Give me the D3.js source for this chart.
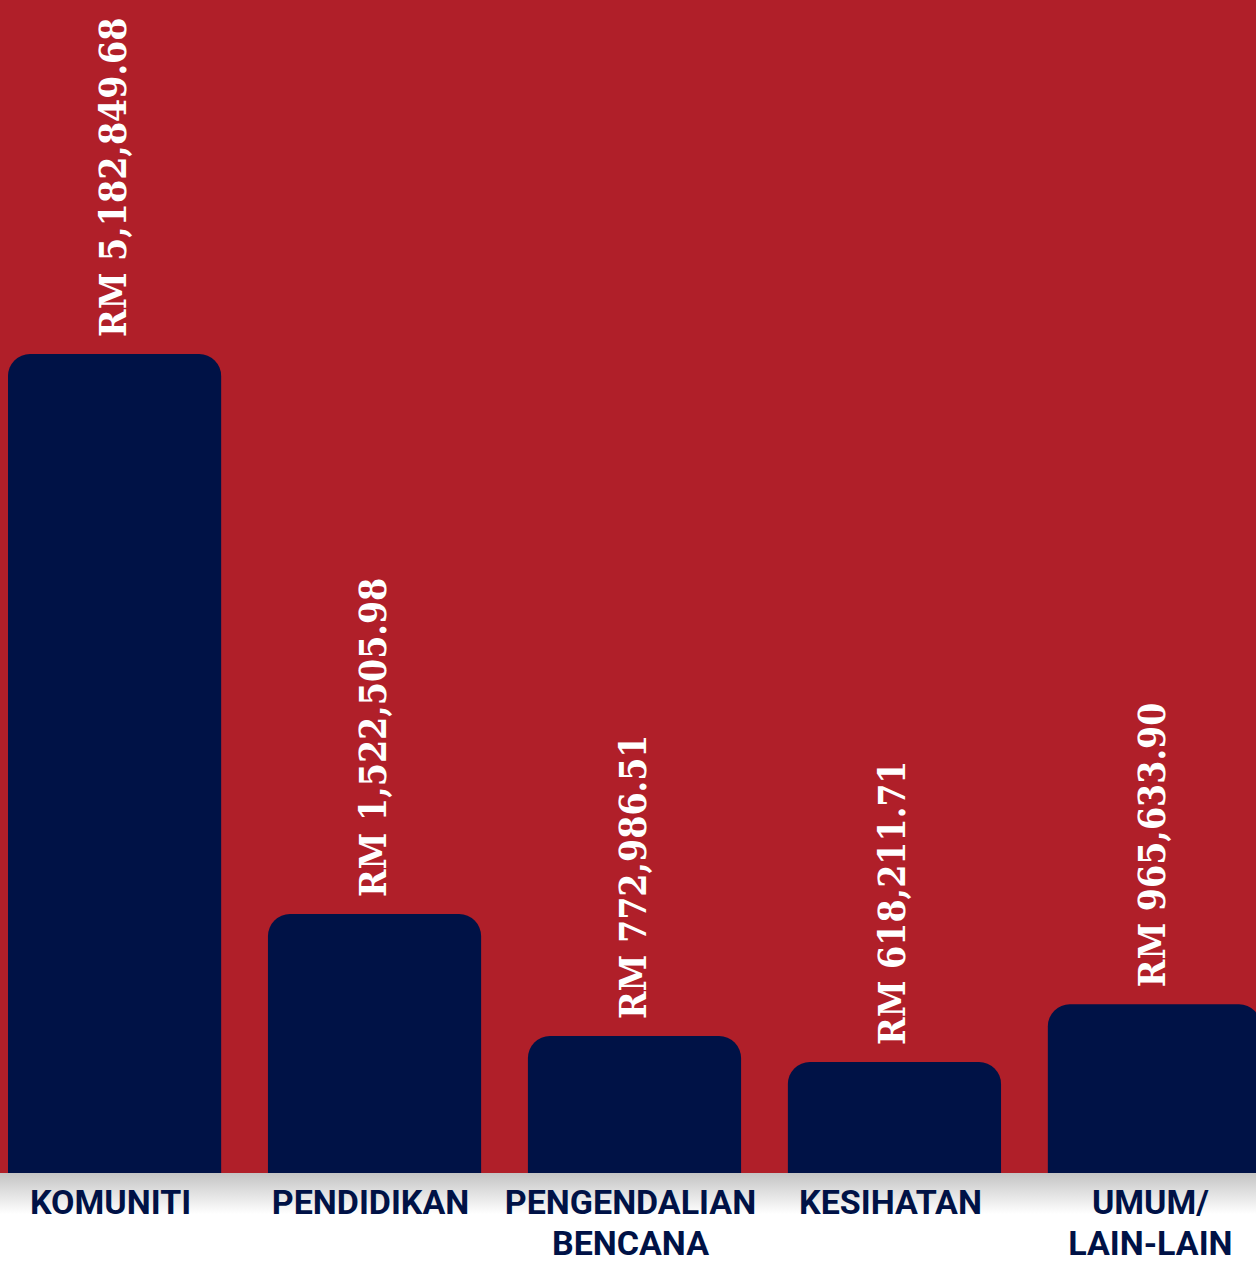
<html>
<head>
<meta charset="utf-8">
<script src="https://cdn.jsdelivr.net/npm/d3@7"></script>
<style>
  body { margin: 0; background: #fff; }
</style>
</head>
<body>
<script>

const width = 1256;
const height = 1264;
const baseY = 1173;

// data
const categories = ["KOMUNITI", "PENDIDIKAN", "PENGENDALIAN BENCANA", "KESIHATAN", "UMUM/ LAIN-LAIN"];
const labelLines = [["KOMUNITI"], ["PENDIDIKAN"], ["PENGENDALIAN", "BENCANA"], ["KESIHATAN"], ["UMUM/", "LAIN-LAIN"]];
const amounts = [5182849.68, 1522505.98, 772986.51, 618211.71, 965633.90];
const valueLabels = ["RM 5,182,849.68", "RM 1,522,505.98", "RM 772,986.51", "RM 618,211.71", "RM 965,633.90"];

const data = categories.map((c, i) => ({ cat: c, lines: labelLines[i], value: amounts[i], label: valueLabels[i] }));

const svg = d3.select('body').append('svg')
	.attr('width', width)
	.attr('height', height);

// red background
svg.append('rect')
	.attr('width', width)
	.attr('height', baseY)
	.attr('fill', '#b01f29');

const xScale = d3.scaleBand()
	.domain(categories)
	.range([8, 1261])
	.paddingInner(0.18)
	.paddingOuter(0);

const yScale = d3.scalePow()
	.exponent(0.94)
	.domain([0, d3.max(amounts)])
	.range([baseY, 354]);

// bars (rounded top, bottom hidden under the strip)
svg.selectAll('.bar')
	.data(data)
	.enter()
	.append('rect')
	.attr('class', 'bar')
	.attr('x', d => xScale(d.cat))
	.attr('y', d => yScale(d.value))
	.attr('width', xScale.bandwidth())
	.attr('height', d => baseY - yScale(d.value) + 40)
	.attr('rx', 22)
	.attr('fill', '#001246');

// value labels
svg.selectAll('.val')
	.data(data)
	.enter()
	.append('text')
	.attr('class', 'val')
	.attr('transform', d => `translate(${xScale(d.cat) + xScale.bandwidth() / 2 + 11}, ${yScale(d.value) - 17}) rotate(-90)`)
	.attr('fill', '#fff')
	.attr('font-family', '"DejaVu Serif Condensed", "DejaVu Serif", serif')
	.attr('font-stretch', 'condensed')
	.attr('font-weight', 600)
	.attr('font-size', 37)
	.text(d => d.label);

// bottom strip with gradient
const grad = svg.append('defs').append('linearGradient')
	.attr('id', 'strip')
	.attr('x1', 0).attr('y1', 0).attr('x2', 0).attr('y2', 1);
grad.append('stop').attr('offset', '0%').attr('stop-color', '#c4c4c4');
grad.append('stop').attr('offset', '45%').attr('stop-color', '#ffffff');
grad.append('stop').attr('offset', '100%').attr('stop-color', '#ffffff');

svg.append('rect')
	.attr('x', 0)
	.attr('y', baseY)
	.attr('width', width)
	.attr('height', height - baseY)
	.attr('fill', 'url(#strip)');

// category labels
const cats = svg.selectAll('.cat')
	.data(data)
	.enter()
	.append('text')
	.attr('class', 'cat')
	.attr('x', d => xScale(d.cat) + xScale.bandwidth() / 2 - 4)
	.attr('y', 1214)
	.attr('text-anchor', 'middle')
	.attr('fill', '#001246')
	.attr('font-family', 'Roboto, sans-serif')
	.attr('font-weight', 'bold')
	.attr('font-size', 34);

cats.selectAll('tspan')
	.data(d => d.lines.map(l => ({ l: l, x: xScale(d.cat) + xScale.bandwidth() / 2 - 4 })))
	.enter()
	.append('tspan')
	.attr('x', t => t.x)
	.attr('dy', (t, i) => i === 0 ? 0 : 41)
	.text(t => t.l);

</script>
</body>
</html>
